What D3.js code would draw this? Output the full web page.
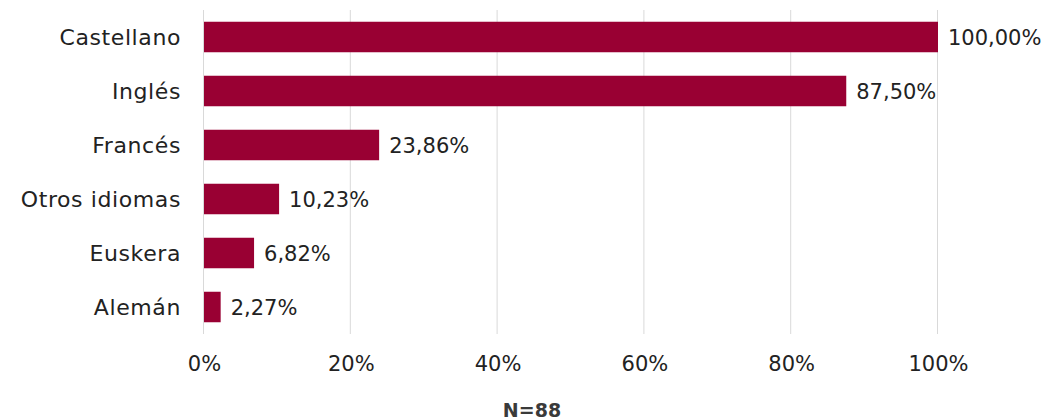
<!DOCTYPE html>
<html>
<head>
<meta charset="utf-8">
<script src="https://cdn.jsdelivr.net/npm/d3@7"></script>
<style>
  html, body { margin: 0; padding: 0; background: #fff; }
  svg { display: block; font-family: "DejaVu Sans", sans-serif; }
</style>
</head>
<body>
<svg id="chart" width="1041" height="420"></svg>
<script>
// Idiomas utilizados (% de respuestas, N=88)
const categories = ["Castellano", "Inglés", "Francés", "Otros idiomas", "Euskera", "Alemán"];
const values = [100.00, 87.50, 23.86, 10.23, 6.82, 2.27];
const xTicks = [0, 20, 40, 60, 80, 100];
const footnote = "N=88";

const svg = d3.select("#chart");
const margin = { left: 204, right: 103, top: 10, bottom: 86 };
const W = 1041, H = 420;

const x = d3.scaleLinear().domain([0, 100]).range([margin.left, W - margin.right]);
const y = d3.scaleBand().domain(categories).range([margin.top, H - margin.bottom]).paddingInner(0.435).paddingOuter(0.2175);

const fmt = v => v.toFixed(2).replace(".", ",") + "%";

// vertical gridlines
svg.append("g")
  .selectAll("line")
  .data(xTicks)
  .join("line")
  .attr("x1", d => x(d) - 0.5).attr("x2", d => x(d) - 0.5)
  .attr("y1", margin.top).attr("y2", H - margin.bottom)
  .attr("stroke", "#d9d9d9").attr("stroke-width", 1);

// x axis tick labels
const xAxis = d3.axisBottom(x).tickValues(xTicks).tickFormat(d => d + "%").tickSize(0).tickPadding(0);
const gx = svg.append("g").attr("transform", `translate(0, ${H - margin.bottom})`).call(xAxis);
gx.select(".domain").remove();
gx.selectAll("text")
  .attr("dy", null).attr("y", 37)
  .attr("font-size", 21).attr("fill", "#222")
  .attr("font-family", "DejaVu Sans, sans-serif");

// category labels
const yAxis = d3.axisLeft(y).tickSize(0).tickPadding(0);
const gy = svg.append("g").attr("transform", `translate(${margin.left - 23}, 0)`).call(yAxis);
gy.select(".domain").remove();
gy.selectAll("text")
  .attr("dy", "0.36em")
  .attr("font-size", 22).attr("fill", "#222")
  .attr("letter-spacing", "0.6px")
  .attr("font-family", "DejaVu Sans, sans-serif");

// bars
svg.append("g")
  .selectAll("rect")
  .data(values)
  .join("rect")
  .attr("x", x(0))
  .attr("y", (d, i) => y(categories[i]))
  .attr("width", d => x(d) - x(0))
  .attr("height", y.bandwidth())
  .attr("fill", "#990033");

// value labels
svg.append("g")
  .selectAll("text")
  .data(values)
  .join("text")
  .attr("x", d => x(d) + 10)
  .attr("y", (d, i) => y(categories[i]) + y.bandwidth() / 2)
  .attr("dy", "0.36em")
  .attr("font-size", 21)
  .attr("fill", "#222")
  .text(fmt);

// sample size
svg.append("text")
  .attr("x", 532).attr("y", 417)
  .attr("text-anchor", "middle")
  .attr("font-size", 19).attr("font-weight", "bold")
  .attr("fill", "#3a3a3a")
  .text(footnote);
</script>
</body>
</html>
